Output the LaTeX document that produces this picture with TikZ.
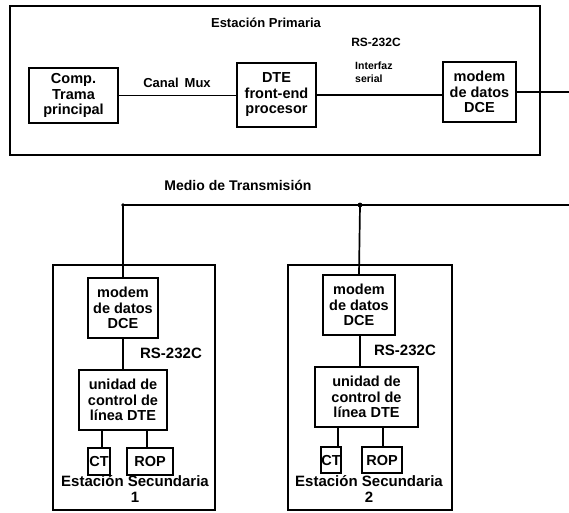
\documentclass[tikz,border=0pt]{standalone}
\usepackage{fontspec}
\setmainfont{Liberation Sans}
\begin{document}
\begin{tikzpicture}[x=1pt,y=-1pt,
  box/.style={draw, line width=1.7pt, inner sep=0pt, align=center,
    font=\bfseries\fontsize{14.5}{15.5}\selectfont},
  frame/.style={draw, line width=1.7pt, inner sep=0pt},
  lbl/.style={inner sep=0pt, align=center, font=\bfseries\fontsize{13}{14}\selectfont},
  big/.style={inner sep=0pt, align=center, font=\bfseries\fontsize{15}{15.5}\selectfont},
  small/.style={inner sep=0pt, align=left, font=\bfseries\fontsize{10.5}{13}\selectfont},
  wire/.style={line width=1.7pt}]
\useasboundingbox (0,0) rectangle (569,512);

% ---------- Estacion primaria ----------
\node[frame, minimum width=530pt, minimum height=149pt] (prim) at (275,80.5) {};
\node[lbl] (tprim) at (266,23) {Estación Primaria};
\node[box, minimum width=89pt, minimum height=55pt] (comp) at (73.5,95.5) {Comp.\\Trama\\principal};
\node[box, minimum width=79pt, minimum height=64pt] (dte) at (276.5,95) {DTE\\front-end\\procesor};
\node[box, minimum width=73pt, minimum height=60pt] (m0) at (479.5,92) {modem\\de datos\\DCE};
\node[lbl] (canal) at (177,83) {Canal\hspace{6pt}Mux};
\node[lbl, font=\bfseries\fontsize{12}{13}\selectfont] (rs0) at (376,42) {RS-232C};
\node[small, anchor=west] (intf) at (355,72) {Interfaz\\serial};
\coordinate (out) at (569,92);
\draw[wire] (comp.east) -- (comp.east -| dte.west);
\draw[wire] (dte.east) -- (dte.east -| m0.west);
\draw[wire] (m0.east) -- (out);

% ---------- Medio de transmision ----------
\node[lbl, font=\bfseries\fontsize{14}{15}\selectfont] (medio) at (238,185) {Medio de Transmisión};
\coordinate (j1) at (123,205);
\coordinate (j2) at (360,205);
\coordinate (busend) at (569,205);
\draw[wire] (j1) -- (busend);
\fill (j1) circle (1.8pt);
\fill (j2) circle (2.4pt);

% ---------- Estacion secundaria 1 ----------
\node[frame, minimum width=162pt, minimum height=245pt] (s1) at (134,387.5) {};
\node[box, minimum width=70pt, minimum height=60pt] (m1) at (123,308) {modem\\de datos\\DCE};
\node[big] (rs1) at (171,353) {RS-232C};
\node[box, minimum width=88pt, minimum height=60pt] (u1) at (123,400) {unidad de\\control de\\línea DTE};
\node[box, minimum width=22pt, minimum height=27pt] (ct1) at (99,461.5) {CT};
\node[box, minimum width=46pt, minimum height=27pt] (rop1) at (150,461.5) {ROP};
\node[big] (es1) at (135,489) {Estación Secundaria\\1};
\draw[wire] (j1) -- (m1.north);
\draw[wire] (m1.south) -- (u1.north);
\draw[wire] (ct1.north -| 102,0) -- (u1.south -| 102,0);
\draw[wire] (rop1.north -| 147,0) -- (u1.south -| 147,0);

% ---------- Estacion secundaria 2 ----------
\node[frame, minimum width=164pt, minimum height=245pt] (s2) at (370,387.5) {};
\node[box, minimum width=72pt, minimum height=60pt] (m2) at (359,305) {modem\\de datos\\DCE};
\node[big] (rs2) at (405,350) {RS-232C};
\node[box, minimum width=103pt, minimum height=60pt] (u2) at (366.5,397) {unidad de\\control de\\línea DTE};
\node[box, minimum width=20pt, minimum height=26pt] (ct2) at (331,460) {CT};
\node[box, minimum width=40pt, minimum height=26pt] (rop2) at (382,460) {ROP};
\node[big] (es2) at (369,489) {Estación Secundaria\\2};
\draw[wire] (j2) -- (m2.north);
\draw[wire] (m2.south -| 360,0) -- (u2.north -| 360,0);
\draw[wire] (ct2.north -| 338,0) -- (u2.south -| 338,0);
\draw[wire] (rop2.north -| 383,0) -- (u2.south -| 383,0);
\end{tikzpicture}
\end{document}
